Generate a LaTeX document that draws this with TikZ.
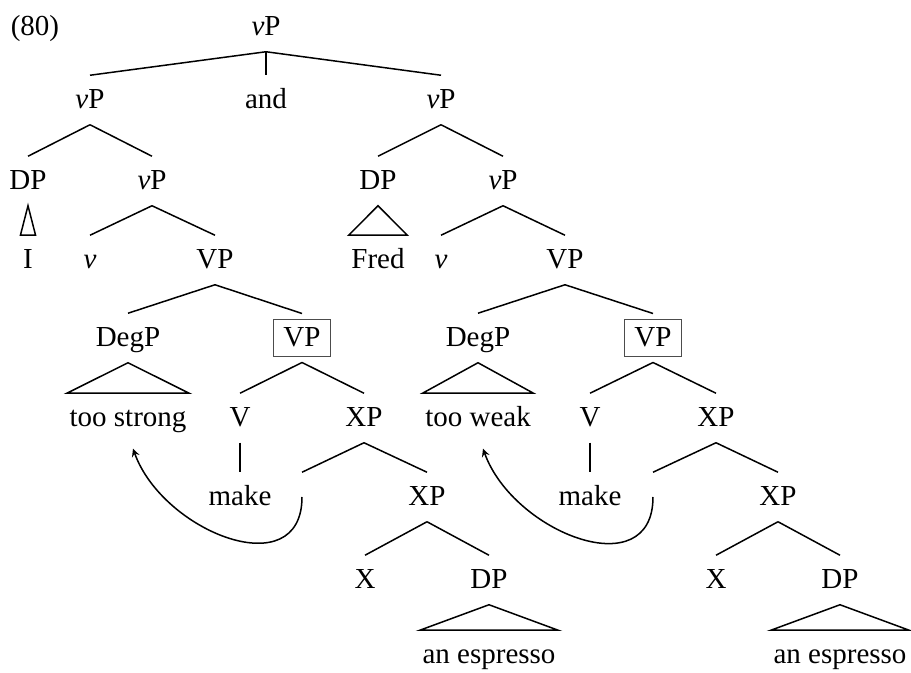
\documentclass[tikz,border=0pt]{standalone}
\usepackage{fontspec}
\setmainfont{Liberation Serif}
\tikzset{lbl/.style={inner xsep=1pt, inner ysep=5.75pt, text height=10.5pt, text depth=2pt},
         boxed/.style={lbl, draw=black!70, line width=0.5pt, inner xsep=5pt, inner ysep=3pt, outer sep=3pt},
         >=stealth}
\begin{document}
\begin{tikzpicture}[x=0.5pt, y=-0.5pt, line width=0.75pt, font=\fontsize{14.5}{17}\selectfont]
             \useasboundingbox (0,0) rectangle (911,673);

             \node (ex) [lbl] at (35,27) {(80)};
             \node (top) [lbl] at (266,27) {\textit{v}P};

             % left conjunct
             \node (LvP) [lbl] at (90,100) {\textit{v}P};
             \node (and) [lbl] at (266,100) {and};
             \node (LDP) [lbl] at (28,181) {DP};
             \node (LvPb) [lbl] at (152,181) {\textit{v}P};
             \node (I) [lbl] at (28,260) {I};
             \node (Lv) [lbl] at (90,260) {\textit{v}};
             \node (LVP) [lbl] at (215,260) {VP};
             \node (LDeg) [lbl] at (128,338) {DegP};
             \node (LVPb) [boxed] at (302,338) {VP};
             \node (strong) [lbl] at (128,418) {too strong};
             \node (LV) [lbl] at (240,418) {V};
             \node (LXP) [lbl] at (364,418) {XP};
             \node (Lmake) [lbl] at (240,497) {make};
             \node (Lt) [lbl] at (302,497) {};
             \node (LXPb) [lbl] at (427,497) {XP};
             \node (LX) [lbl] at (365,580) {X};
             \node (LDPb) [lbl] at (489,580) {DP};
             \node (Lesp) [lbl] at (489,655) {an espresso};

             % right conjunct
             \node (RvP) [lbl] at (441,100) {\textit{v}P};
             \node (RDP) [lbl] at (378,181) {DP};
             \node (RvPb) [lbl] at (503,181) {\textit{v}P};
             \node (Fred) [lbl] at (378,260) {Fred};
             \node (Rv) [lbl] at (441,260) {\textit{v}};
             \node (RVP) [lbl] at (565,260) {VP};
             \node (RDeg) [lbl] at (478,338) {DegP};
             \node (RVPb) [boxed] at (653,338) {VP};
             \node (weak) [lbl] at (478,418) {too weak};
             \node (RV) [lbl] at (590,418) {V};
             \node (RXP) [lbl] at (716,418) {XP};
             \node (Rmake) [lbl] at (590,497) {make};
             \node (Rt) [lbl] at (653,497) {};
             \node (RXPb) [lbl] at (778,497) {XP};
             \node (RX) [lbl] at (716,580) {X};
             \node (RDPb) [lbl] at (840,580) {DP};
             \node (Resp) [lbl] at (840,655) {an espresso};

             \draw (top.south) -- (LvP.north);
             \draw (top.south) -- (and.north);
             \draw (top.south) -- (RvP.north);

             \draw (LvP.south) -- (LDP.north);
             \draw (LvP.south) -- (LvPb.north);
             \draw (LDP.south) -- (I.north west) -- (I.north east) -- cycle;
             \draw (LvPb.south) -- (Lv.north);
             \draw (LvPb.south) -- (LVP.north);
             \draw (LVP.south) -- (LDeg.north);
             \draw (LVP.south) -- (LVPb.north);
             \draw (LDeg.south) -- (strong.north west) -- (strong.north east) -- cycle;
             \draw (LVPb.south) -- (LV.north);
             \draw (LVPb.south) -- (LXP.north);
             \draw (LV.south) -- (Lmake.north);
             \draw (LXP.south) -- (Lt.north);
             \draw (LXP.south) -- (LXPb.north);
             \draw (LXPb.south) -- (LX.north);
             \draw (LXPb.south) -- (LDPb.north);
             \draw (LDPb.south) -- (Lesp.north west) -- (Lesp.north east) -- cycle;

             \draw (RvP.south) -- (RDP.north);
             \draw (RvP.south) -- (RvPb.north);
             \draw (RDP.south) -- (Fred.north west) -- (Fred.north east) -- cycle;
             \draw (RvPb.south) -- (Rv.north);
             \draw (RvPb.south) -- (RVP.north);
             \draw (RVP.south) -- (RDeg.north);
             \draw (RVP.south) -- (RVPb.north);
             \draw (RDeg.south) -- (weak.north west) -- (weak.north east) -- cycle;
             \draw (RVPb.south) -- (RV.north);
             \draw (RVPb.south) -- (RXP.north);
             \draw (RV.south) -- (Rmake.north);
             \draw (RXP.south) -- (Rt.north);
             \draw (RXP.south) -- (RXPb.north);
             \draw (RXPb.south) -- (RX.north);
             \draw (RXPb.south) -- (RDPb.north);
             \draw (RDPb.south) -- (Resp.north west) -- (Resp.north east) -- cycle;

             % movement
             \draw [->, looseness=1.3] (Lt.center) to [out=-90, in=-70] ([xshift=2.5pt, yshift=-3pt]strong.south);
             \draw [->, looseness=1.3] (Rt.center) to [out=-90, in=-70] ([xshift=2.5pt, yshift=-3pt]weak.south);
          \end{tikzpicture}
\end{document}
